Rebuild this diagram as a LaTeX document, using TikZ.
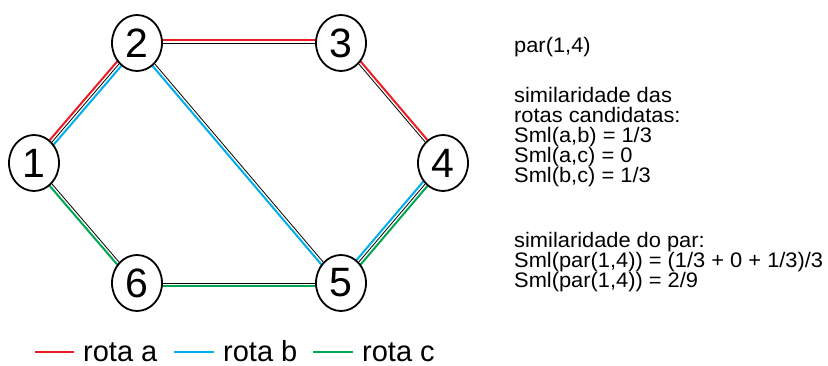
\documentclass[tikz,border=0pt]{standalone}
\usepackage{fontspec}
\setmainfont{Liberation Sans}
\newfontfamily\infofont[FakeStretch=1.04]{Liberation Sans}
\usetikzlibrary{calc,shapes.geometric}
\definecolor{rred}{RGB}{237,28,36}
\definecolor{rblue}{RGB}{0,174,239}
\definecolor{rgreen}{RGB}{0,166,81}
\tikzset{
  vtx/.style={ellipse,draw=black,line width=1.8pt,fill=white,minimum width=50pt,minimum height=56pt,inner sep=0pt,font=\fontsize{41}{41}\selectfont},
  blk/.style={draw=black,line width=0.8pt},
  rte/.style={line width=2pt},
  info/.style={anchor=west,inner sep=0pt,text height=14pt,text depth=3.5pt,font=\infofont\fontsize{21}{21}\selectfont},
  leg/.style={anchor=west,inner sep=0pt,text height=20pt,text depth=0.5pt,font=\fontsize{29}{29}\selectfont}
}
% offset colored line: #1 colour, #2 from, #3 to, #4 signed offset
\newcommand{\rline}[4]{\draw[rte,#1] ($(#2)!#4!90:(#3)$) -- ($(#3)!#4!-90:(#2)$);}
\begin{document}
\begin{tikzpicture}[x=1pt,y=1pt]
\useasboundingbox (0,0) rectangle (828,365);
% node coordinates (centres)
\coordinate (c1) at (34,202);
\coordinate (c2) at (137,322);
\coordinate (c3) at (341,322);
\coordinate (c4) at (443,202);
\coordinate (c5) at (341,82);
\coordinate (c6) at (137,82);
% black lines
\foreach \a/\b in {c1/c2,c2/c3,c3/c4,c2/c5,c4/c5,c1/c6,c6/c5}{\draw[blk] (\a) -- (\b);}
% route lines
\rline{rred}{c1}{c2}{3pt}
\rline{rblue}{c1}{c2}{-3pt}
\rline{rred}{c2}{c3}{3pt}
\rline{rred}{c3}{c4}{3pt}
\rline{rblue}{c2}{c5}{-3pt}
\rline{rblue}{c4}{c5}{-3pt}
\rline{rgreen}{c4}{c5}{3pt}
\rline{rgreen}{c1}{c6}{-3pt}
\rline{rgreen}{c6}{c5}{-3pt}
% vertices
\node[vtx] (n1) at (c1) {1};
\node[vtx] (n2) at (c2) {2};
\node[vtx] (n3) at (c3) {3};
\node[vtx] (n4) at (c4) {4};
\node[vtx] (n5) at (c5) {5};
\node[vtx] (n6) at (c6) {6};
% info text
\node[info] (t1) at (514,318) {par(1,4)};
\node[info] (t2) at (514,268) {similaridade das};
\node[info] (t3) at (514,248) {rotas candidatas:};
\node[info] (t4) at (514,228) {Sml(a,b) = 1/3};
\node[info] (t5) at (514,208) {Sml(a,c) = 0};
\node[info] (t6) at (514,188) {Sml(b,c) = 1/3};
\node[info] (t7) at (514,123) {similaridade do par:};
\node[info] (t8) at (514,103) {Sml(par(1,4)) = (1/3 + 0 + 1/3)/3};
\node[info] (t9) at (514,83) {Sml(par(1,4)) = 2/9};
% legend
\coordinate (la1) at (35,13); \coordinate (la2) at (74,13);
\coordinate (lb1) at (174,13); \coordinate (lb2) at (214,13);
\coordinate (lc1) at (313,13); \coordinate (lc2) at (353,13);
\draw[rte,rred] (la1) -- (la2);
\draw[rte,rblue] (lb1) -- (lb2);
\draw[rte,rgreen] (lc1) -- (lc2);
\node[leg] (ta) at (83,13.5) {rota a};
\node[leg] (tb) at (223,13.5) {rota b};
\node[leg] (tc) at (362,13.5) {rota c};
\end{tikzpicture}
\end{document}
